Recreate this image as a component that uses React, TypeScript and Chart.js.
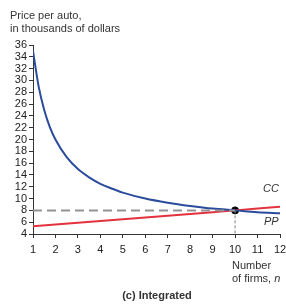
import React, { useEffect, useRef } from "react";
import { Chart, registerables } from "chart.js";

Chart.register(...registerables);

const ccN = [1, 1.25, 1.5, 1.75, 2, 2.5, 3, 3.5, 4, 4.5, 5, 6, 7, 8, 9, 10, 11, 12];
const ccPrice = [35, 29, 25, 22.1, 20, 17, 15, 13.6, 12.5, 11.7, 11, 10, 9.3, 8.75, 8.3, 8, 7.7, 7.5];
const ppN = [1, 2, 3, 4, 5, 6, 7, 8, 9, 10, 11, 12];
const ppPrice = [5.3, 5.6, 5.9, 6.2, 6.5, 6.8, 7.1, 7.4, 7.7, 8.0, 8.3, 8.6];
const eqN = 10;
const eqPrice = 8;
const yMin = 4;
const yMax = 36;
const xMin = 1;
const xMax = 12;

const FONT = "'Liberation Sans', Arial, Helvetica, sans-serif";

export default function App() {
  const ref = useRef<HTMLCanvasElement>(null);
  useEffect(() => {
    if (!ref.current) return;
    const chart = new Chart(ref.current, {
      type: "line",
      data: {
        datasets: [
          {
            label: "eqH",
            data: [
              { x: xMin, y: eqPrice },
              { x: eqN, y: eqPrice },
            ],
            borderColor: "#939393",
            borderWidth: 2,
            borderDash: [9, 5],
            pointRadius: 0,
            fill: false,
          },
          {
            label: "eqV",
            data: [
              { x: eqN, y: eqPrice },
              { x: eqN, y: yMin },
            ],
            borderColor: "#808080",
            borderWidth: 1,
            borderDash: [3, 2],
            pointRadius: 0,
            fill: false,
          },
          {
            label: "CC",
            data: ccN.map((n, i) => ({ x: n, y: ccPrice[i] })),
            borderColor: "#2b4c9c",
            borderWidth: 2,
            pointRadius: 0,
            cubicInterpolationMode: "monotone",
            fill: false,
          },
          {
            label: "PP",
            data: ppN.map((n, i) => ({ x: n, y: ppPrice[i] })),
            borderColor: "#e3323d",
            borderWidth: 2,
            pointRadius: 0,
            fill: false,
          },
          {
            label: "eq",
            data: [{ x: eqN, y: eqPrice }],
            showLine: false,
            pointRadius: 3.5,
            pointBackgroundColor: "#000",
            pointBorderColor: "#000",
          },
        ],
      },
      options: {
        animation: false,
        responsive: false,
        layout: { padding: { top: 45, right: 6, left: 0, bottom: 0 } },
        plugins: {
          legend: { display: false },
          tooltip: { enabled: false },
        },
        scales: {
          x: {
            type: "linear",
            min: xMin,
            max: xMax,
            ticks: {
              stepSize: 1,
              color: "#222",
              font: { family: FONT, size: 11 },
              padding: 5,
              maxRotation: 0,
            },
            grid: { drawOnChartArea: false, drawTicks: true, tickLength: 4, color: "#333" },
            border: { display: true, color: "#333", width: 1 },
            afterFit: (s: any) => {
              s.height = 307 - 234;
              s.paddingRight = 0;
            },
          },
          y: {
            type: "linear",
            min: yMin,
            max: yMax,
            ticks: {
              stepSize: 2,
              color: "#222",
              font: { family: FONT, size: 11 },
              padding: 2,
              autoSkip: false,
            },
            grid: { drawOnChartArea: false, drawTicks: true, tickLength: 4, color: "#333" },
            border: { display: true, color: "#333", width: 1 },
            afterFit: (s: any) => {
              s.width = 33;
            },
          },
        },
      },
    });
    return () => chart.destroy();
  }, []);

  const txt: React.CSSProperties = {
    position: "absolute",
    fontFamily: FONT,
    fontSize: 11,
    color: "#333",
    lineHeight: "13px",
    whiteSpace: "nowrap",
  };

  return (
    <div style={{ position: "fixed", left: 0, top: 0, width: 286, height: 307, background: "#fff" }}>
      <canvas ref={ref} width={286} height={307} style={{ position: "absolute", left: 0, top: 0 }} />
      <div style={{ ...txt, left: 10, top: 9 }}>
        Price per auto,
        <br />
        in thousands of dollars
      </div>
      <div style={{ ...txt, left: 263, top: 182, fontStyle: "italic" }}>CC</div>
      <div style={{ ...txt, left: 264, top: 215, fontStyle: "italic" }}>PP</div>
      <div style={{ ...txt, left: 232, top: 259 }}>
        Number
        <br />
        of firms, <i>n</i>
      </div>
      <div style={{ ...txt, left: 0, width: 286, textAlign: "center", top: 289, fontWeight: "bold", paddingLeft: 28, boxSizing: "border-box" }}>
        (c) Integrated
      </div>
    </div>
  );
}
